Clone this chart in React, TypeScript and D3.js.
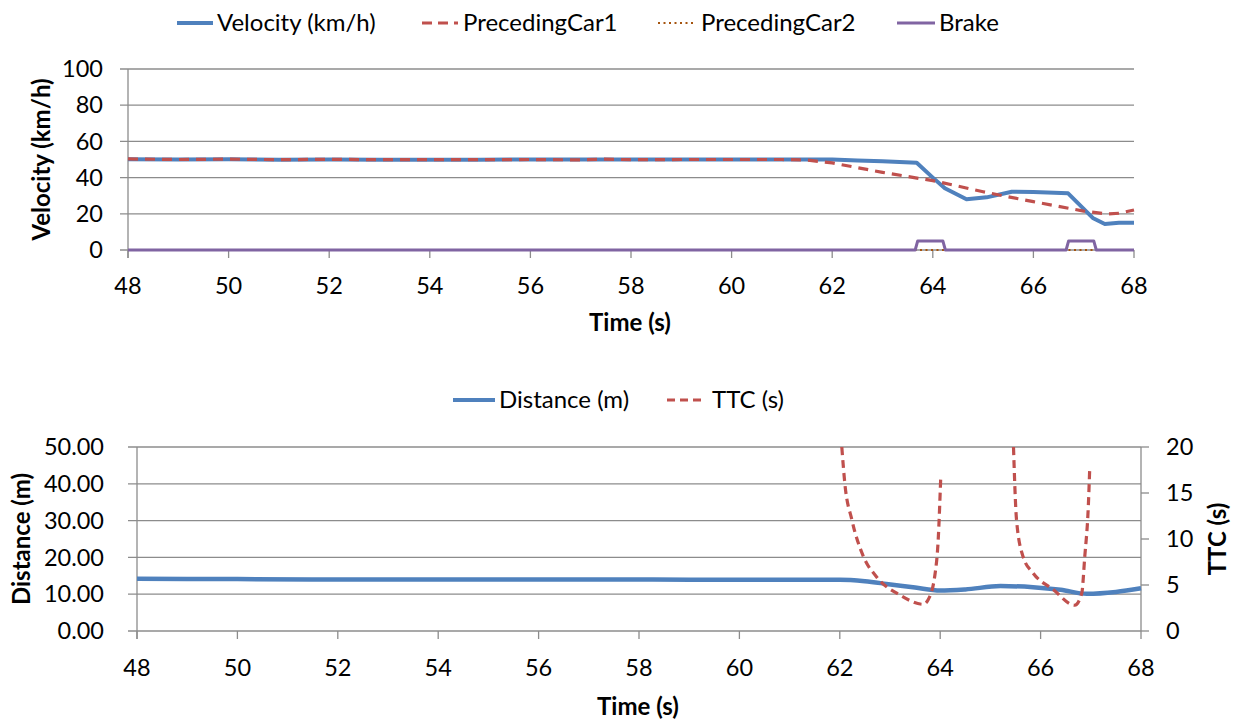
import React from "react";
import * as d3 from "d3";

// Vehicle run: velocity, preceding cars, brake signal (top panel)
const velTime = [48, 49, 50, 51, 52, 53, 54, 55, 56, 57, 58, 59, 60, 61, 62, 62.5, 63, 63.68, 64.0, 64.24, 64.67, 65.07, 65.57, 66.0, 66.69, 67.0, 67.19, 67.42, 67.7, 68];
const velocity = [50.2, 50, 50.1, 49.9, 50, 49.9, 49.9, 49.9, 50, 50, 50, 50, 50, 50, 50, 49.5, 49, 48.2, 40, 34.1, 28, 29.1, 32.2, 32, 31.3, 22.7, 17.5, 14.4, 15, 15];

const pc1Time = [48, 49, 50, 51, 52, 53, 54, 55, 56, 57, 57.4, 58, 59, 60, 61, 61.5, 62, 62.5, 63, 63.5, 64, 64.5, 65, 65.5, 66, 66.5, 67, 67.46, 67.7, 68];
const precedingCar1 = [50.3, 50, 50.2, 49.9, 50.1, 49.9, 49.9, 49.9, 50, 49.8, 50.2, 49.9, 50, 50, 50, 49.7, 48.1, 45.5, 42.9, 40.6, 38.3, 35.3, 32.2, 29.4, 26.7, 24.1, 21.5, 19.9, 20.3, 22.1];

const pc2Time = [48, 68];
const precedingCar2 = [0, 0];

const brakeTime = [48, 63.65, 63.7, 64.2, 64.25, 66.65, 66.7, 67.2, 67.25, 68];
const brake = [0, 0, 5, 5, 0, 0, 5, 5, 0, 0];

// Gap and time-to-collision (bottom panel)
const distTime = [48, 50, 52, 54, 56, 58, 60, 61, 62, 62.5, 62.93, 63.5, 64.0, 64.5, 65.2, 65.85, 66.4, 66.92, 67.5, 68];
const distance = [14.2, 14.1, 14.0, 14.0, 14.0, 14.0, 13.9, 13.9, 13.9, 13.5, 12.8, 11.8, 11.0, 11.3, 12.2, 11.9, 11.2, 10.1, 10.6, 11.6];

const ttcTime = [62.04, 62.1, 62.24, 62.47, 62.73, 63.2, 63.66, 63.76, 63.9, 63.96, 64.01, 64.5, 65.46, 65.52, 65.65, 65.85, 66.25, 66.68, 66.82, 66.88, 66.95, 66.98];
const ttc: (number | null)[] = [20, 16.05, 12.1, 8.1, 5.9, 3.9, 2.9, 3.4, 6.3, 9.9, 16.6, null, 20, 12.1, 8.1, 6.3, 4.5, 2.8, 4.1, 8.1, 13.5, 17.9];

const timeTicks = [48, 50, 52, 54, 56, 58, 60, 62, 64, 66, 68];
const velTicks = [0, 20, 40, 60, 80, 100];
const distTicks = [0, 10, 20, 30, 40, 50];
const ttcTicks = [0, 5, 10, 15, 20];

const FONT = "Lato, 'Open Sans', sans-serif";
const GRID = "#8c8c8c";
const BLUE = "#4f81bd";
const RED = "#c0504d";
const BROWN = "#a5540f";
const PURPLE = "#8064a2";

type Pt = [number, number | null];
const zip = (t: number[], v: (number | null)[]): Pt[] => t.map((x, i) => [x, v[i]]);

export default function App() {
  // top panel geometry
  const tx = d3.scaleLinear().domain([48, 68]).range([128, 1134]);
  const ty = d3.scaleLinear().domain([0, 100]).range([250, 69]);
  // bottom panel geometry
  const bx = d3.scaleLinear().domain([48, 68]).range([137, 1141]);
  const by = d3.scaleLinear().domain([0, 50]).range([631, 447]);
  const byR = d3.scaleLinear().domain([0, 20]).range([631, 447]);

  const topLine = d3
    .line<Pt>()
    .x((d) => tx(d[0]))
    .y((d) => ty(d[1] as number));
  const distLine = d3
    .line<Pt>()
    .x((d) => bx(d[0]))
    .y((d) => by(d[1] as number))
    .curve(d3.curveMonotoneX);
  const ttcLine = d3
    .line<Pt>()
    .defined((d) => d[1] !== null)
    .x((d) => bx(d[0]))
    .y((d) => byR(d[1] as number))
    .curve(d3.curveMonotoneX);

  const tick = { fontFamily: FONT, fontSize: 23.5, fill: "#000" } as const;
  const title = { fontFamily: FONT, fontSize: 24, fontWeight: 700, fill: "#000" } as const;
  const leg = { fontFamily: FONT, fontSize: 24, fill: "#000" } as const;

  return (
    <svg width={1238} height={724} style={{ position: "absolute", left: 0, top: 0, background: "#fff" }}>
      <rect width={1238} height={724} fill="#fff" />

      {/* ---------- top legend ---------- */}
      <g>
        <line x1={177} x2={213} y1={23} y2={23} stroke={BLUE} strokeWidth={4} />
        <text x={217} y={23} dy="0.35em" {...leg}>Velocity (km/h)</text>
        <line x1={422} x2={458} y1={23} y2={23} stroke={RED} strokeWidth={3} strokeDasharray="10 6" />
        <text x={463} y={23} dy="0.35em" {...leg}>PrecedingCar1</text>
        <line x1={658} x2={695} y1={23} y2={23} stroke={BROWN} strokeWidth={2} strokeDasharray="2 3.5" />
        <text x={701} y={23} dy="0.35em" {...leg}>PrecedingCar2</text>
        <line x1={897} x2={935} y1={23} y2={23} stroke={PURPLE} strokeWidth={3} />
        <text x={939} y={23} dy="0.35em" {...leg}>Brake</text>
      </g>

      {/* ---------- top panel ---------- */}
      <g>
        {velTicks.map((v) => (
          <g key={v}>
            <line x1={120} x2={1134} y1={ty(v)} y2={ty(v)} stroke={GRID} strokeWidth={1.3} />
            <text x={103} y={ty(v)} dy="0.35em" textAnchor="end" {...tick}>{v}</text>
          </g>
        ))}
        <line x1={128} x2={128} y1={69} y2={258} stroke={GRID} strokeWidth={1.3} />
        {timeTicks.map((t) => (
          <g key={t}>
            <line x1={tx(t)} x2={tx(t)} y1={250} y2={258} stroke={GRID} strokeWidth={1.3} />
            <text x={tx(t)} y={286} dy="0.35em" textAnchor="middle" {...tick}>{t}</text>
          </g>
        ))}
        <text x={630} y={323} dy="0.35em" textAnchor="middle" {...title}>Time (s)</text>
        <text transform={`translate(42,${(69 + 250) / 2}) rotate(-90)`} dy="0.35em" textAnchor="middle" {...title}>Velocity (km/h)</text>

        <path d={topLine(zip(pc2Time, precedingCar2)) ?? ""} fill="none" stroke={BROWN} strokeWidth={2} strokeDasharray="2 3.5" />
        <path d={topLine(zip(brakeTime, brake)) ?? ""} fill="none" stroke={PURPLE} strokeWidth={3} strokeLinejoin="round" />
        <path d={topLine(zip(velTime, velocity)) ?? ""} fill="none" stroke={BLUE} strokeWidth={4} strokeLinejoin="round" />
        <path d={topLine(zip(pc1Time, precedingCar1)) ?? ""} fill="none" stroke={RED} strokeWidth={3.2} strokeDasharray="10 7" />
      </g>

      {/* ---------- bottom legend ---------- */}
      <g>
        <line x1={453} x2={495} y1={400} y2={400} stroke={BLUE} strokeWidth={4} />
        <text x={499} y={400} dy="0.35em" {...leg}>Distance (m)</text>
        <line x1={667} x2={705} y1={400} y2={400} stroke={RED} strokeWidth={3} strokeDasharray="8 5" />
        <text x={712} y={400} dy="0.35em" {...leg}>TTC (s)</text>
      </g>

      {/* ---------- bottom panel ---------- */}
      <g>
        {distTicks.map((v) => (
          <g key={v}>
            <line x1={128} x2={1141} y1={by(v)} y2={by(v)} stroke={GRID} strokeWidth={1.3} />
            <text x={104} y={by(v)} dy="0.35em" textAnchor="end" {...tick}>{v.toFixed(2)}</text>
          </g>
        ))}
        <line x1={137} x2={137} y1={447} y2={639} stroke={GRID} strokeWidth={1.3} />
        <line x1={1141} x2={1141} y1={447} y2={631} stroke={GRID} strokeWidth={1.3} />
        {ttcTicks.map((v) => (
          <g key={v}>
            <line x1={1141} x2={1149} y1={byR(v)} y2={byR(v)} stroke={GRID} strokeWidth={1.3} />
            <text x={1166} y={byR(v)} dy="0.35em" textAnchor="start" {...tick}>{v}</text>
          </g>
        ))}
        {timeTicks.map((t) => (
          <g key={t}>
            <line x1={bx(t)} x2={bx(t)} y1={631} y2={639} stroke={GRID} strokeWidth={1.3} />
            <text x={bx(t)} y={668} dy="0.35em" textAnchor="middle" {...tick}>{t}</text>
          </g>
        ))}
        <text x={638} y={707} dy="0.35em" textAnchor="middle" {...title}>Time (s)</text>
        <text transform={`translate(22,${(447 + 631) / 2}) rotate(-90)`} dy="0.35em" textAnchor="middle" {...title}>Distance (m)</text>
        <text transform={`translate(1218,${(447 + 631) / 2}) rotate(-90)`} dy="0.35em" textAnchor="middle" {...title}>TTC (s)</text>

        <path d={distLine(zip(distTime, distance)) ?? ""} fill="none" stroke={BLUE} strokeWidth={4.5} strokeLinejoin="round" />
        <path d={ttcLine(zip(ttcTime, ttc)) ?? ""} fill="none" stroke={RED} strokeWidth={3.2} strokeDasharray="8 5" />
      </g>
    </svg>
  );
}
